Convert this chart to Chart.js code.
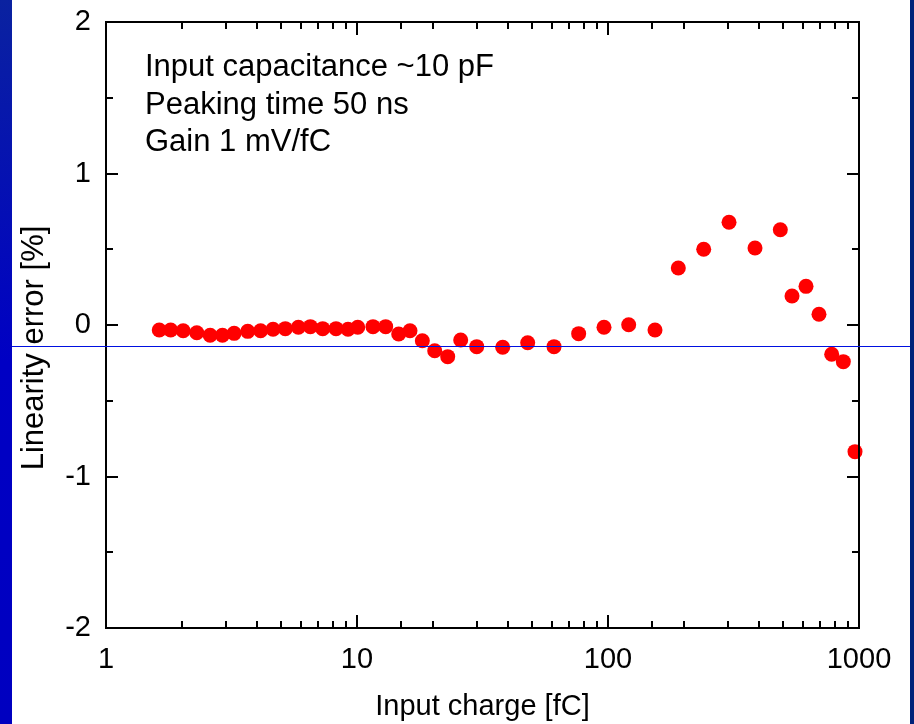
<!DOCTYPE html>
<html>
<head>
<meta charset="utf-8">
<title>Linearity error</title>
<script src="https://cdn.jsdelivr.net/npm/chart.js@4/dist/chart.umd.min.js"></script>
<style>
  html, body { margin: 0; padding: 0; background: #ffffff; }
  #chart { display: block; }
</style>
</head>
<body>
<canvas id="chart" width="914" height="724"></canvas>
<script>
// data
const chargeFc = [1.63, 1.81, 2.03, 2.30, 2.60, 2.91, 3.24, 3.67, 4.13, 4.63, 5.18, 5.84, 6.52, 7.30, 8.25, 9.21,
    10.07, 11.58, 13.01, 14.66, 16.26, 18.21, 20.40, 22.98, 25.89, 29.99, 38.06, 47.87, 60.95, 76.4, 96.4,
    120.9, 153.9, 190.6, 240.6, 303.5, 385.2, 485.9, 540.9, 615, 692.7, 778.4, 866, 964];
const linErrPct = [-0.033, -0.033, -0.038, -0.051, -0.068, -0.068, -0.055, -0.042, -0.038, -0.028, -0.024, -0.015,
    -0.011, -0.024, -0.024, -0.028, -0.015, -0.011, -0.011, -0.059, -0.038, -0.104, -0.170, -0.209, -0.099,
    -0.143, -0.147, -0.117, -0.143, -0.057, -0.015, 0.002, -0.033, 0.376, 0.500, 0.678, 0.508, 0.629, 0.191,
    0.255, 0.071, -0.193, -0.242, -0.836];
const xTickLabels = [1, 10, 100, 1000];
const yTickLabels = [-2, -1, 0, 1, 2];
const notes = ['Input capacitance ~10 pF', 'Peaking time 50 ns', 'Gain 1 mV/fC'];
const refLine = -0.14;   // the stray blue line across the slide

const FONT = 'Arial, "Liberation Sans", sans-serif';

const puntos = chargeFc.map((q, i) => ({ x: q, y: linErrPct[i] }));

// slide background, frame, inward ticks, notes
const slidePlugin = {
    id: 'slide',
    beforeDraw(chart) {
        const ctx = chart.ctx;
        const h = chart.height;
        ctx.save();
        const grad = ctx.createLinearGradient(0, 0, 0, h);
        grad.addColorStop(0, '#0a22a0');
        grad.addColorStop(0.5, '#0000c4');
        grad.addColorStop(1, '#0000c0');
        ctx.fillStyle = grad;
        ctx.fillRect(0, 0, 12, h);
        ctx.fillStyle = '#ffffff';
        ctx.fillRect(12, 0, 898, h);
        ctx.fillStyle = '#00237a';
        ctx.fillRect(910, 0, chart.width - 910, h);
        ctx.restore();
    },
    afterDraw(chart) {
        const ctx = chart.ctx;
        const a = chart.chartArea;
        const xs = chart.scales.x;
        const ys = chart.scales.y;
        ctx.save();

        // frame
        ctx.strokeStyle = '#000';
        ctx.lineWidth = 2;
        ctx.strokeRect(a.left, a.top, a.right - a.left, a.bottom - a.top);

        // x ticks, bottom and top
        xs.ticks.forEach(t => {
            if (t.value <= xs.min || t.value >= xs.max) return;
            const px = Math.round(xs.getPixelForValue(t.value));
            const major = xTickLabels.includes(t.value);
            const len = major ? 13 : 7;
            ctx.beginPath();
            ctx.moveTo(px, a.bottom); ctx.lineTo(px, a.bottom - len);
            ctx.moveTo(px, a.top); ctx.lineTo(px, a.top + len);
            ctx.stroke();
        });

        // y ticks, left and right (minor at halves)
        for (let v = ys.min; v <= ys.max; v += 0.5) {
            if (v <= ys.min || v >= ys.max) continue;
            const py = Math.round(ys.getPixelForValue(v));
            const len = Number.isInteger(v) ? 12 : 7;
            ctx.beginPath();
            ctx.moveTo(a.left, py); ctx.lineTo(a.left + len, py);
            ctx.moveTo(a.right, py); ctx.lineTo(a.right - len, py);
            ctx.stroke();
        }

        // notes
        ctx.fillStyle = '#000';
        ctx.font = '31px ' + FONT;
        ctx.textAlign = 'left';
        ctx.textBaseline = 'alphabetic';
        notes.forEach((txt, i) => {
            ctx.fillText(txt, a.left + 39, a.top + 54 + i * 37.5);
        });

        // y axis title, drawn by hand so it can sit a little low like the original
        ctx.save();
        ctx.translate(43, 348);
        ctx.rotate(-Math.PI / 2);
        ctx.textAlign = 'center';
        ctx.font = '31px ' + FONT;
        ctx.fillText('Linearity error [%]', 0, 0);
        ctx.restore();

        // blue line across the slide
        const ly = Math.round(ys.getPixelForValue(refLine)) + 0.5;
        ctx.strokeStyle = '#0010e0';
        ctx.lineWidth = 1;
        ctx.beginPath();
        ctx.moveTo(12, ly); ctx.lineTo(910, ly);
        ctx.stroke();

        ctx.restore();
    }
};

// quita el relleno automatico de las etiquetas para que el area quede fija
function sinRelleno(s) {
    s.paddingTop = 0;
    s.paddingBottom = 0;
    s.paddingLeft = 0;
    s.paddingRight = 0;
}

function crearGrafico() {
    const ctx = document.getElementById('chart');
    new Chart(ctx, {
        type: 'scatter',
        data: {
            datasets: [{
                data: puntos,
                backgroundColor: '#ff0000',
                borderWidth: 0,
                pointRadius: 7.5,
                pointHoverRadius: 7.5,
                clip: false
            }]
        },
        options: {
            responsive: false,
            devicePixelRatio: 1,
            animation: false,
            events: [],
            layout: { padding: { left: 0, top: 22, right: 55, bottom: 0 } },
            plugins: {
                legend: { display: false },
                tooltip: { enabled: false }
            },
            scales: {
                x: {
                    type: 'logarithmic',
                    min: 1,
                    max: 1000,
                    grid: { display: false, drawTicks: false },
                    border: { display: false },
                    ticks: {
                        autoSkip: false,
                        maxRotation: 0,
                        padding: 15,
                        color: '#000',
                        font: { family: FONT, size: 29 },
                        callback: (v) => xTickLabels.includes(v) ? String(v) : ''
                    },
                    title: {
                        display: true,
                        text: 'Input charge [fC]',
                        color: '#000',
                        font: { family: FONT, size: 29 },
                        padding: { top: 0, bottom: 0 }
                    },
                    afterFit: (s) => { s.height = 96; sinRelleno(s); }
                },
                y: {
                    min: -2,
                    max: 2,
                    grid: { display: false, drawTicks: false },
                    border: { display: false },
                    afterBuildTicks: (s) => { s.ticks = yTickLabels.map(v => ({ value: v })); },
                    ticks: {
                        padding: 15,
                        color: '#000',
                        font: { family: FONT, size: 29 },
                        callback: (v) => String(v)
                    },
                    afterFit: (s) => { s.width = 106; sinRelleno(s); }
                }
            }
        },
        plugins: [slidePlugin]
    });
}

crearGrafico();
</script>
</body>
</html>
